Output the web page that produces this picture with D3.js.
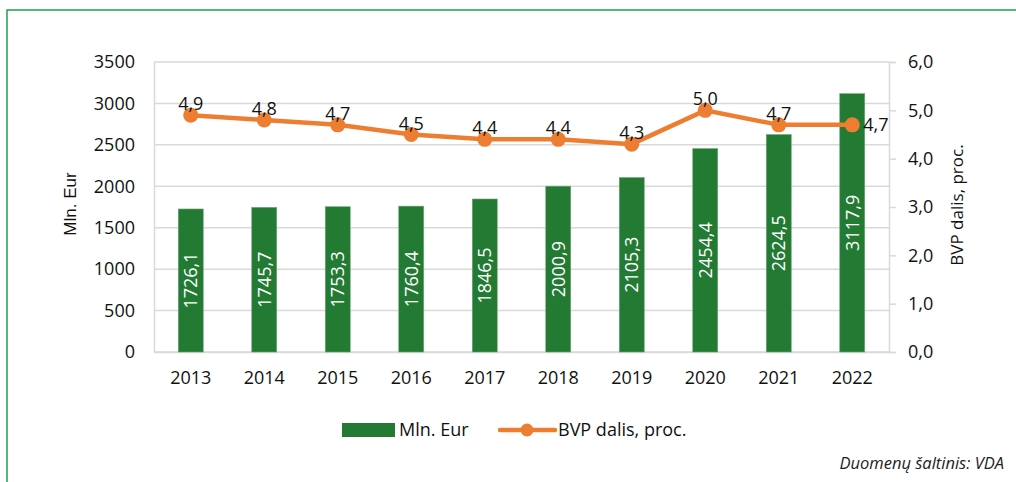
<!DOCTYPE html>
<html>
<head>
<meta charset="utf-8">
<script src="https://cdn.jsdelivr.net/npm/d3@7"></script>
<style>
  body { margin: 0; background: #fff; }
  svg text { font-family: "Open Sans", "Noto Sans", sans-serif; fill: #111; }
</style>
</head>
<body>
<div id="chart"></div>
<script>
var years = ["2013", "2014", "2015", "2016", "2017", "2018", "2019", "2020", "2021", "2022"];
var mlnEur = [1726.1, 1745.7, 1753.3, 1760.4, 1846.5, 2000.9, 2105.3, 2454.4, 2624.5, 3117.9];
var bvpShare = [4.9, 4.8, 4.7, 4.5, 4.4, 4.4, 4.3, 5.0, 4.7, 4.7];
var leftTicks = [0, 500, 1000, 1500, 2000, 2500, 3000, 3500];
var rightTicks = [0, 1, 2, 3, 4, 5, 6];

var fullWidth = 1016, fullHeight = 482;
var margin = {top: 62, right: 127, bottom: 130, left: 154};
var width = fullWidth - margin.left - margin.right;
var height = fullHeight - margin.top - margin.bottom;

var barColor = "#237a33", lineColor = "#ed7d31", gridColor = "#d9d9d9";
var comma = function(v, n) { return v.toFixed(n).replace(".", ","); };

var svg = d3.select("#chart").append("svg")
    .attr("width", fullWidth)
    .attr("height", fullHeight);

// green frame
svg.append("rect")
    .attr("x", 7).attr("y", 10)
    .attr("width", 1100).attr("height", 600)
    .attr("fill", "none")
    .attr("stroke", "#1aa24b")
    .attr("stroke-width", 1.5);

var g = svg.append("g")
    .attr("transform", "translate(" + margin.left + "," + margin.top + ")");

var x = d3.scaleBand().domain(years).range([0, width])
    .paddingInner(0.66).paddingOuter(0.33);
var yL = d3.scaleLinear().domain([0, 3500]).range([height, 0]);
var yR = d3.scaleLinear().domain([0, 6]).range([height, 0]);

// gridlines
g.append("g").attr("class", "grid")
    .selectAll("line").data(leftTicks).enter().append("line")
    .attr("x1", 0).attr("x2", width)
    .attr("y1", function(d) { return yL(d); })
    .attr("y2", function(d) { return yL(d); })
    .attr("stroke", gridColor).attr("stroke-width", 1.5);

// left axis
var yAxisL = d3.axisLeft(yL).tickValues(leftTicks).tickSize(0).tickPadding(19)
    .tickFormat(d3.format("d"));
var gl = g.append("g").attr("class", "y-axis").call(yAxisL);
gl.select(".domain").attr("stroke", gridColor).attr("stroke-width", 1.5);
gl.selectAll("text").style("font-size", "18px").attr("fill", "#111");

// right axis
var yAxisR = d3.axisRight(yR).tickValues(rightTicks).tickSize(7).tickPadding(12)
    .tickFormat(function(d) { return comma(d, 1); });
var gr = g.append("g").attr("class", "y-axis-r")
    .attr("transform", "translate(" + width + ",0)")
    .call(yAxisR);
gr.select(".domain").attr("stroke", gridColor).attr("stroke-width", 1.5);
gr.selectAll(".tick line").attr("stroke", gridColor).attr("stroke-width", 1.5);
gr.selectAll("text").style("font-size", "18px").attr("fill", "#111");

// x axis
var gx = g.append("g").attr("class", "x-axis")
    .attr("transform", "translate(0," + height + ")")
    .call(d3.axisBottom(x).tickSize(0).tickPadding(19));
gx.select(".domain").attr("stroke", gridColor).attr("stroke-width", 1.5);
gx.selectAll("text").style("font-size", "18px").attr("fill", "#111");

// bars
var bars = g.append("g").attr("class", "bars")
    .selectAll("g").data(years).enter().append("g");

bars.append("rect")
    .attr("x", function(d) { return x(d); })
    .attr("y", function(d, i) { return yL(mlnEur[i]); })
    .attr("width", x.bandwidth())
    .attr("height", function(d, i) { return height - yL(mlnEur[i]); })
    .attr("fill", barColor)
    .attr("stroke", "#6fa777").attr("stroke-width", 0.6);

bars.append("text")
    .attr("transform", function(d, i) {
        var cx = x(d) + x.bandwidth() / 2;
        var cy = (yL(mlnEur[i]) + height) / 2;
        return "translate(" + cx + "," + cy + ") rotate(-90)";
    })
    .attr("text-anchor", "middle")
    .attr("dy", "0.36em")
    .style("font-size", "18px")
    .style("fill", "#fff")
    .text(function(d, i) { return comma(mlnEur[i], 1); });

// line
var line = d3.line()
    .x(function(d, i) { return x(years[i]) + x.bandwidth() / 2; })
    .y(function(d) { return yR(d); });

g.append("path")
    .datum(bvpShare)
    .attr("d", line)
    .attr("fill", "none")
    .attr("stroke", lineColor)
    .attr("stroke-width", 4.5);

g.append("g").selectAll("circle").data(bvpShare).enter().append("circle")
    .attr("cx", function(d, i) { return x(years[i]) + x.bandwidth() / 2; })
    .attr("cy", function(d) { return yR(d); })
    .attr("r", 7.5)
    .attr("fill", lineColor);

g.append("g").selectAll("text").data(bvpShare).enter().append("text")
    .attr("x", function(d, i) {
        var cx = x(years[i]) + x.bandwidth() / 2;
        return i === years.length - 1 ? cx + 11 : cx;
    })
    .attr("y", function(d, i) {
        return i === years.length - 1 ? yR(d) + 6 : yR(d) - 5;
    })
    .attr("text-anchor", function(d, i) { return i === years.length - 1 ? "start" : "middle"; })
    .style("font-size", "18px")
    .text(function(d) { return comma(d, 1); });

// axis titles
svg.append("text")
    .attr("transform", "translate(76,204) rotate(-90)")
    .attr("text-anchor", "middle")
    .style("font-family", "'Liberation Sans', Arial, sans-serif")
    .style("font-size", "17px")
    .text("Mln. Eur");

svg.append("text")
    .attr("transform", "translate(963,205) rotate(-90)")
    .attr("text-anchor", "middle")
    .style("font-size", "17px")
    .text("BVP dalis, proc.");

// legend
var leg = svg.append("g").attr("class", "legend");
leg.append("rect")
    .attr("x", 342).attr("y", 423).attr("width", 53).attr("height", 14)
    .attr("fill", barColor);
leg.append("text")
    .attr("x", 399).attr("y", 436)
    .style("font-size", "18px")
    .text("Mln. Eur");
leg.append("line")
    .attr("x1", 500).attr("x2", 555).attr("y1", 430).attr("y2", 430)
    .attr("stroke", lineColor).attr("stroke-width", 4.5).attr("stroke-linecap", "round");
leg.append("circle")
    .attr("cx", 527).attr("cy", 430).attr("r", 6.5).attr("fill", lineColor);
leg.append("text")
    .attr("x", 558).attr("y", 436)
    .style("font-size", "18px")
    .text("BVP dalis, proc.");

// source
svg.append("text")
    .attr("x", 1004).attr("y", 469)
    .attr("text-anchor", "end")
    .style("font-size", "16.5px")
    .style("font-style", "italic")
    .style("fill", "#222")
    .text("Duomenų šaltinis: VDA");
</script>
</body>
</html>
